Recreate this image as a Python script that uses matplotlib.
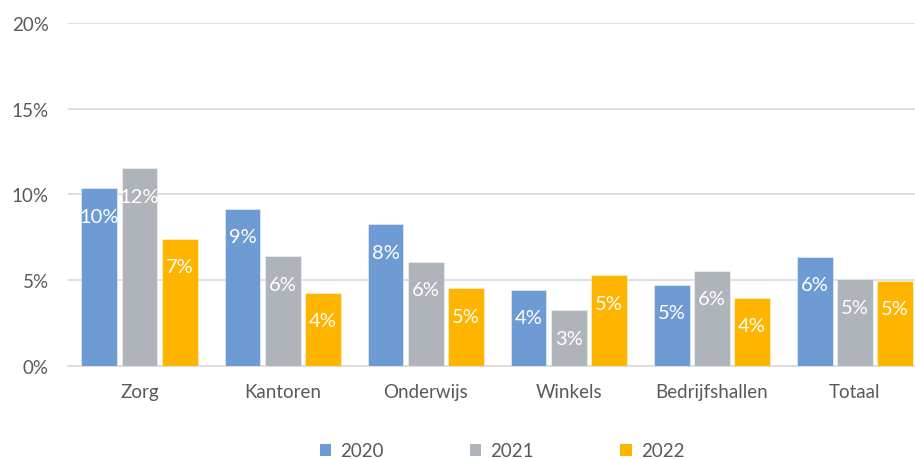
import matplotlib
matplotlib.use("Agg")
import matplotlib.pyplot as plt
from matplotlib.patches import Patch
import numpy as np

categories = ["Zorg", "Kantoren", "Onderwijs", "Winkels", "Bedrijfshallen", "Totaal"]
years = ["2020", "2021", "2022"]
v2020 = [10.35, 9.16, 8.26, 4.44, 4.75, 6.36]
v2021 = [11.52, 6.39, 6.06, 3.24, 5.54, 5.05]
v2022 = [7.41, 4.25, 4.52, 5.28, 3.96, 4.95]
colors = ["#6E9BD3", "#AEB4B9", "#FFB400"]

plt.rcParams['font.family'] = ['Lato', 'DejaVu Sans']
txt = "#595959"

fig = plt.figure(figsize=(9.15, 4.6), dpi=100)
ax = fig.add_axes([68/915, 93/460, (926.5-68)/915, (367-24)/460])

x = np.arange(len(categories))
w = 0.25
step = 0.281
series = [v2020, v2021, v2022]
for i, (vals, c) in enumerate(zip(series, colors)):
    pos = x + (i - 1) * step
    bars = ax.bar(pos, vals, width=w, color=c, edgecolor=(1, 1, 1, 0.5), linewidth=0.6, zorder=3)
    for b, v in zip(bars, vals):
        ax.annotate(f"{int(v + 0.5):d}%", (b.get_x() + b.get_width()/2, v),
                    xytext=(0, -20), textcoords="offset points",
                    ha="center", va="center", color="white", fontsize=14.5, zorder=4)

ax.set_xlim(-0.5, len(categories) - 0.5)
ax.set_ylim(0, 20)
ax.set_yticks([0, 5, 10, 15, 20])
ax.set_yticklabels([f"{t}%" for t in [0, 5, 10, 15, 20]])
ax.yaxis.grid(True, color="#D9D9D9", linewidth=1.2, zorder=0)
ax.set_axisbelow(True)
for s in ["top", "right", "left"]:
    ax.spines[s].set_visible(False)
ax.spines["bottom"].set_color("#D9D9D9")
ax.spines["bottom"].set_linewidth(1.2)
ax.set_xticks(x)
ax.set_xticklabels(categories)
ax.tick_params(axis="both", length=0, labelsize=13.5, labelcolor=txt)
ax.tick_params(axis="y", pad=14)
ax.tick_params(axis="x", pad=12)

handles = [Patch(facecolor=c, edgecolor="none") for c in colors]
fig.legend(handles, years, loc="center", bbox_to_anchor=(502/915, 1 - 452/460), ncol=3,
           frameon=False, fontsize=13.5, labelcolor=txt, handlelength=0.6, handleheight=0.6,
           handletextpad=0.5, columnspacing=4.6)

fig.savefig("out.png", dpi=100)
